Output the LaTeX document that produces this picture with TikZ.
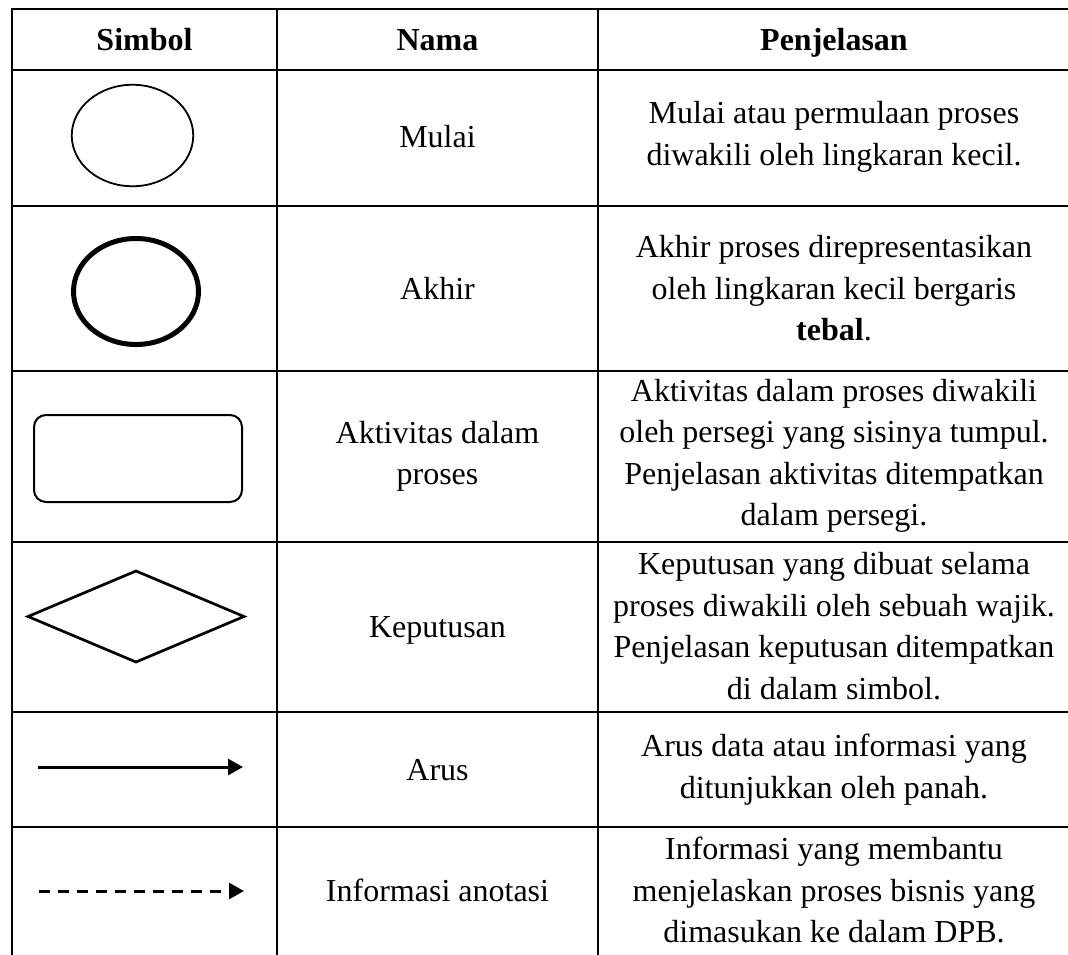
\documentclass[tikz,border=0pt]{standalone}
\usepackage{fontspec}
\setmainfont{Liberation Serif}
\usetikzlibrary{arrows.meta,shapes.geometric}
\tikzset{
  grid/.style={line width=2.8pt,line cap=rect},
  txt/.style={align=center,inner sep=0pt,font=\fontsize{32}{41.5}\selectfont},
  one/.style={inner sep=0pt,anchor=base,font=\fontsize{32}{41.5}\selectfont},
  head/.style={inner sep=0pt,anchor=base,font=\fontsize{32}{41.5}\selectfont\bfseries},
  flow/.style={line width=3pt,-{Triangle[length=15pt,width=16pt]}},
}
\begin{document}
\begin{tikzpicture}[x=1pt,y=-1pt]
\useasboundingbox (0,0) rectangle (1068,954);
% table grid
\foreach \yy in {9,70,206,371,542,712,827} {
  \draw[grid] (12,\yy) -- (1075,\yy);
}
\foreach \xx in {12,277,598} {
  \draw[grid] (\xx,9) -- (\xx,960);
}
% header
\node[head] (h1) at (144.5,50.5) {Simbol};
\node[head] (h2) at (437.5,50.5) {Nama};
\node[head] (h3) at (834,50.5) {Penjelasan};
% symbols
\node[draw,ellipse,line width=1.8pt,minimum width=121.5pt,minimum height=101.5pt,inner sep=0pt] (s1) at (132.5,135.5) {};
\node[draw,ellipse,line width=5pt,minimum width=125pt,minimum height=106pt,inner sep=0pt] (s2) at (136,291.5) {};
\node[draw,rounded corners=12pt,line width=2pt,minimum width=208pt,minimum height=87pt,inner sep=0pt] (s3) at (138,458.5) {};
\draw[line width=2.7pt,line join=miter] (28,616.5) -- (136,571) -- (244,616.5) -- (136,662) -- cycle;
\coordinate (a1s) at (38,767);
\coordinate (a1e) at (243,767);
\draw[flow] (a1s) -- (a1e);
\coordinate (a2s) at (39,891);
\coordinate (a2e) at (244,891);
\draw[flow,dash pattern=on 10.5pt off 8.5pt] (a2s) -- (a2e);
% names
\node[one] (n1) at (437.5,147) {Mulai};
\node[one] (n2) at (437.5,299) {Akhir};
\node[txt] (n3) at (437.5,456.5) {Aktivitas dalam\\proses};
\node[one] (n4) at (437.5,637.5) {Keputusan};
\node[one] (n5) at (437.5,780) {Arus};
\node[one] (n6) at (437.5,901.5) {Informasi anotasi};
% descriptions
\node[txt] (d1) at (834,137) {Mulai atau permulaan proses\\diwakili oleh lingkaran kecil.};
\node[txt] (d2) at (834,288.5) {Akhir proses direpresentasikan\\oleh lingkaran kecil bergaris\\\textbf{tebal}.};
\node[txt] (d3) at (834,456) {Aktivitas dalam proses diwakili\\oleh persegi yang sisinya tumpul.\\Penjelasan aktivitas ditempatkan\\dalam persegi.};
\node[txt] (d4) at (834,626) {Keputusan yang dibuat selama\\proses diwakili oleh sebuah wajik.\\Penjelasan keputusan ditempatkan\\di dalam simbol.};
\node[txt] (d5) at (834,769.5) {Arus data atau informasi yang\\ditunjukkan oleh panah.};
\node[txt] (d6) at (834,890) {Informasi yang membantu\\menjelaskan proses bisnis yang\\dimasukan ke dalam DPB.};
\end{tikzpicture}
\end{document}
